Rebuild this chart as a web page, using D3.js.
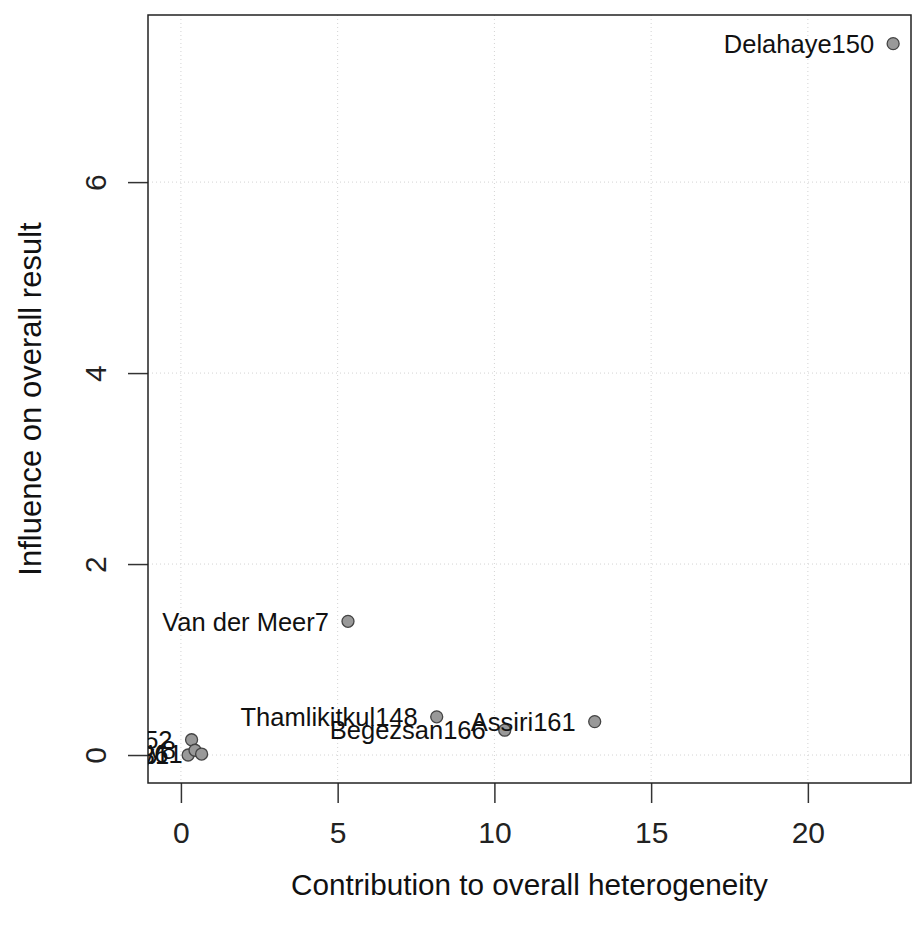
<!DOCTYPE html>
<html>
<head>
<meta charset="utf-8">
<script src="https://cdn.jsdelivr.net/npm/d3@7"></script>
<style>
  html, body { margin: 0; padding: 0; background: #fff; }
  svg { display: block; font-family: "Liberation Sans", Arial, sans-serif; }
</style>
</head>
<body>
<svg id="chart" width="913" height="932"></svg>
<script>
// ---- data ----
const studies = ["Delahaye150", "Van der Meer7", "Thamlikitkul148", "Begezsan166", "Assiri161",
                 "Study152", "Study31", "Study8", "Study61"];
const heterogeneity = [22.72, 5.33, 8.16, 10.33, 13.20, 0.34, 0.23, 0.45, 0.66];
const influence = [7.45, 1.40, 0.40, 0.26, 0.35, 0.16, 0.00, 0.05, 0.01];
const xTicks = [0, 5, 10, 15, 20];
const yTicks = [0, 2, 4, 6];
const xTitle = "Contribution to overall heterogeneity";
const yTitle = "Influence on overall result";

// ---- layout ----
(function () {
const svg = d3.select("#chart");
const pL = 148, pR = 911, pT = 15, pB = 783;
const FONT = "Liberation Sans, Arial, sans-serif";

const x = d3.scaleLinear().domain([-1.05, 23.29]).range([pL, pR]);
const y = d3.scaleLinear().domain([-0.293, 7.75]).range([pB, pT]);

svg.append("defs").append("clipPath").attr("id", "plotclip")
  .append("rect").attr("x", pL).attr("y", pT).attr("width", pR - pL).attr("height", pB - pT);

// grid
const grid = svg.append("g");
grid.selectAll(".gx").data(xTicks).enter().append("line")
  .attr("x1", d => x(d)).attr("x2", d => x(d)).attr("y1", pT).attr("y2", pB)
  .attr("stroke", "#d3d3d3").attr("stroke-width", 1).attr("stroke-dasharray", "1,3");
grid.selectAll(".gy").data(yTicks).enter().append("line")
  .attr("y1", d => y(d)).attr("y2", d => y(d)).attr("x1", pL).attr("x2", pR)
  .attr("stroke", "#d3d3d3").attr("stroke-width", 1).attr("stroke-dasharray", "1,3");

// axes
const xAxis = d3.axisBottom(x).tickValues(xTicks).tickSize(20).tickFormat(d3.format("d"));
const gx = svg.append("g").attr("transform", `translate(0,${pB})`).call(xAxis);
gx.select(".domain").remove();
gx.selectAll("line").attr("stroke", "#333").attr("stroke-width", 1.5);
gx.selectAll("text").attr("font-size", 30).attr("fill", "#222").attr("font-family", FONT)
  .attr("y", 49).attr("dy", "0.35em");

const yAxis = d3.axisLeft(y).tickValues(yTicks).tickSize(20).tickFormat(d3.format("d"));
const gy = svg.append("g").attr("transform", `translate(${pL},0)`).call(yAxis);
gy.select(".domain").remove();
gy.selectAll("line").attr("stroke", "#333").attr("stroke-width", 1.5);
gy.selectAll("text")
  .attr("font-size", 30).attr("fill", "#222").attr("font-family", FONT)
  .attr("x", null)
  .attr("text-anchor", "middle")
  .attr("transform", "translate(-53,0) rotate(-90)")
  .attr("dy", "0.35em");

// box
svg.append("rect").attr("x", pL).attr("y", pT).attr("width", pR - pL).attr("height", pB - pT)
  .attr("fill", "none").attr("stroke", "#222").attr("stroke-width", 1.5);

// points + labels
const data = studies.map((s, i) => ({ name: s, hx: heterogeneity[i], inf: influence[i] }));
const plot = svg.append("g").attr("clip-path", "url(#plotclip)");
plot.selectAll("circle").data(data).enter().append("circle")
  .attr("cx", d => x(d.hx)).attr("cy", d => y(d.inf)).attr("r", 6)
  .attr("fill", "#999999").attr("stroke", "#444").attr("stroke-width", 1.3);
plot.selectAll("text.lab").data(data).enter().append("text").attr("class", "lab")
  .attr("x", d => x(d.hx) - 19).attr("y", d => y(d.inf)).attr("dy", "0.36em")
  .attr("text-anchor", "end").attr("font-size", 25.5).attr("fill", "#111")
  .text(d => d.name);

// titles
svg.append("text").attr("x", (pL + pR) / 2).attr("y", 885).attr("dy", "0.35em")
  .attr("text-anchor", "middle").attr("font-size", 29.7).attr("fill", "#111").text(xTitle);
svg.append("text").attr("transform", `translate(30,${(pT + pB) / 2}) rotate(-90)`).attr("dy", "0.35em")
  .attr("text-anchor", "middle").attr("font-size", 31).attr("fill", "#111").text(yTitle);
})();
</script>
</body>
</html>
